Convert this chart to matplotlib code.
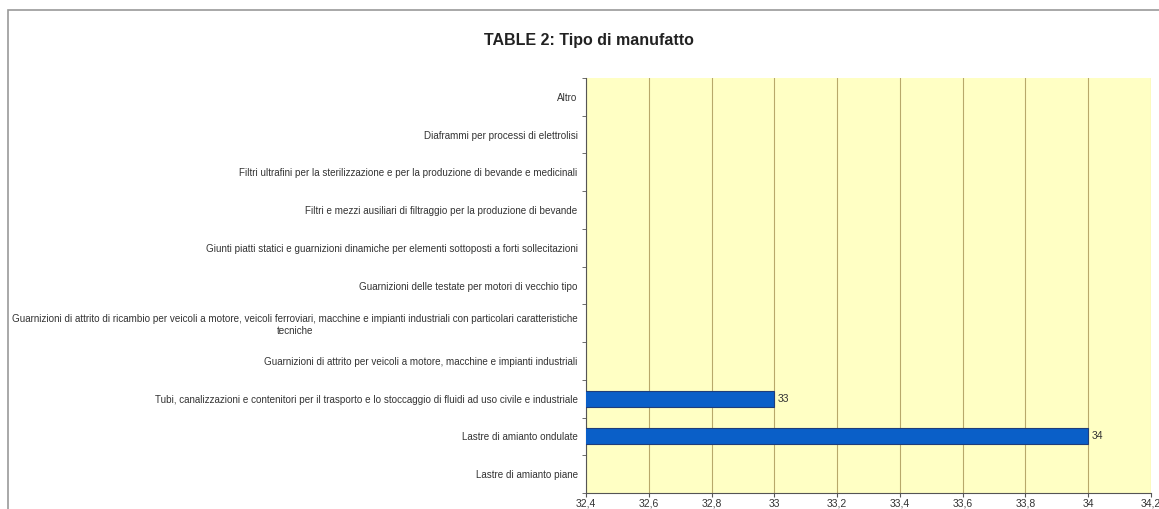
import matplotlib
matplotlib.use("Agg")
import matplotlib.pyplot as plt
from matplotlib.patches import Rectangle
import numpy as np

plt.rcParams['font.family'] = ['Liberation Sans Narrow', 'Liberation Sans', 'DejaVu Sans']

# categories bottom -> top, as drawn
categories = [
    "Lastre di amianto piane",
    "Lastre di amianto ondulate",
    "Tubi, canalizzazioni e contenitori per il trasporto e lo stoccaggio di fluidi ad uso civile e industriale",
    "Guarnizioni di attrito per veicoli a motore, macchine e impianti industriali",
    "Guarnizioni di attrito di ricambio per veicoli a motore, veicoli ferroviari, macchine e impianti industriali con particolari caratteristiche\ntecniche",
    "Guarnizioni delle testate per motori di vecchio tipo",
    "Giunti piatti statici e guarnizioni dinamiche per elementi sottoposti a forti sollecitazioni",
    "Filtri e mezzi ausiliari di filtraggio per la produzione di bevande",
    "Filtri ultrafini per la sterilizzazione e per la produzione di bevande e medicinali",
    "Diaframmi per processi di elettrolisi",
    "Altro",
]
values = [0, 34, 33, 0, 0, 0, 0, 0, 0, 0, 0]
xticks = [32.4, 32.6, 32.8, 33.0, 33.2, 33.4, 33.6, 33.8, 34.0, 34.2]

fig = plt.figure(figsize=(11.59, 5.09), dpi=100)
ax = fig.add_axes([586/1159, 16/509, (1151-586)/1159, (493-78)/509])

# outer chart frame (cut off on the right and bottom like the screenshot)
fig.patches.append(Rectangle((8/1159, -0.05), 1.2, 1 - 10/509 + 0.05,
                             transform=fig.transFigure, fill=False,
                             edgecolor='#9a9a9a', linewidth=1.2))

y = np.arange(len(categories))
ax.set_facecolor('#ffffc4')
bars = ax.barh(y, values, height=0.42, color='#0a5fc8', edgecolor='#1f3d7a', linewidth=0.8, zorder=3)
for b, v in zip(bars, values):
    if v > 0:
        ax.text(v + 0.01, b.get_y() + b.get_height() / 2, str(v), va='center', ha='left',
                fontsize=7.5, color='#333333')

ax.set_xlim(32.4, 34.2)
ax.set_ylim(-0.5, len(categories) - 0.5)
ax.set_xticks(xticks)
ax.set_xticklabels([f"{t:.1f}".rstrip('0').rstrip('.').replace('.', ',') for t in xticks],
                   fontsize=7.5, color='#333333')
ax.xaxis.grid(True, color='#b8a86a', linewidth=0.8, zorder=0)
ax.set_axisbelow(True)

ax.set_yticks(y)
ax.set_yticklabels(categories, fontsize=7.1, color='#333333')
for lbl in ax.get_yticklabels():
    lbl.set_multialignment('center')
ax.tick_params(axis='y', length=0, pad=6)
ax.set_yticks(np.arange(-0.5, len(categories)), minor=True)
ax.tick_params(axis='y', which='minor', length=3, color='#555555')
ax.tick_params(axis='x', length=3, color='#555555', pad=1)

for s in ['top', 'right']:
    ax.spines[s].set_visible(False)
for s in ['left', 'bottom']:
    ax.spines[s].set_color('#555555')
    ax.spines[s].set_linewidth(0.8)

fig.text(589/1159, 1 - 40/509, "TABLE 2: Tipo di manufatto", ha='center', va='center',
         fontsize=11.5, fontweight='bold', color='#222222')

fig.savefig("out.png", dpi=100)
